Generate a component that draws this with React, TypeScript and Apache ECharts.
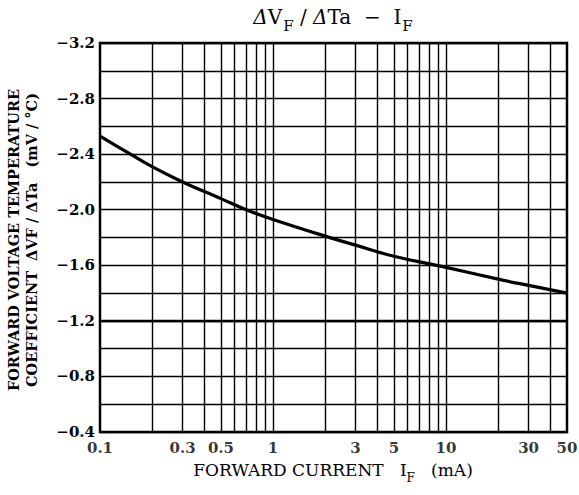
import React, { useEffect, useRef } from 'react';
import * as echarts from 'echarts';

// Forward current IF (mA) and temperature coefficient ΔVF/ΔTa (mV/°C)
const curveCurrent = [0.1, 0.15, 0.2, 0.3, 0.5, 0.7, 1, 2, 3, 5, 10, 20, 30, 50];
const curveCoef = [-2.53, -2.4, -2.31, -2.2, -2.08, -2.0, -1.93, -1.81, -1.745, -1.665, -1.585, -1.5, -1.455, -1.4];

const xGridValues = [0.2, 0.3, 0.4, 0.5, 0.6, 0.7, 0.8, 0.9, 1, 2, 3, 4, 5, 6, 7, 8, 9, 10, 20, 30, 40];
const xTickValues = [0.1, 0.3, 0.5, 1, 3, 5, 10, 30, 50];
const xTickLabels = ['0.1', '0.3', '0.5', '1', '3', '5', '10', '30', '50'];
const yTickValues = [-3.2, -2.8, -2.4, -2.0, -1.6, -1.2, -0.8, -0.4];
const yTickLabels = ['−3.2', '−2.8', '−2.4', '−2.0', '−1.6', '−1.2', '−0.8', '−0.4'];
const yMin = -3.2;
const yMax = -0.4;
const yStep = 0.2;
const yHeavyLine = -1.2;

const SERIF = "'DejaVu Serif', serif";

export default function App() {
  const ref = useRef<HTMLDivElement>(null);

  useEffect(() => {
    document.body.style.margin = '0';
    const chart = echarts.init(ref.current!, null, { renderer: 'svg' });

    const option: any = {
      animation: false,
      backgroundColor: '#fff',
      grid: {
        left: 100,
        right: 12,
        top: 43,
        bottom: 63,
        show: true,
        borderColor: '#000',
        borderWidth: 2.5,
        backgroundColor: 'transparent',
      },
      xAxis: {
        type: 'log',
        logBase: 10,
        min: 0.1,
        max: 50,
        axisLine: { show: false },
        axisTick: { show: false },
        axisLabel: { show: false },
        splitLine: { show: false },
        minorSplitLine: { show: false },
      },
      yAxis: {
        type: 'value',
        inverse: true,
        min: yMin,
        max: yMax,
        interval: yStep,
        axisLine: { show: false },
        axisTick: { show: false },
        splitLine: { show: true, lineStyle: { color: '#000', width: 1.4 } },
        axisLabel: {
          margin: 5,
          fontFamily: SERIF,
          fontWeight: 'bold',
          fontSize: 15,
          color: '#000',
          formatter: (v: number) => {
            const i = yTickValues.findIndex((t) => Math.abs(t - v) < 1e-6);
            return i >= 0 ? yTickLabels[i] : '';
          },
        },
      },
      series: [
        {
          type: 'line',
          data: curveCurrent.map((x, i) => [x, curveCoef[i]]),
          smooth: 0.4,
          symbol: 'none',
          lineStyle: { color: '#000', width: 3.2 },
          z: 5,
          markLine: {
            silent: true,
            symbol: ['none', 'none'],
            label: { show: false },
            lineStyle: { color: '#000', width: 1.4, type: 'solid' },
            data: [
              ...xGridValues.map((v) => ({ xAxis: v })),
              { yAxis: yHeavyLine, lineStyle: { color: '#000', width: 2.4, type: 'solid' } },
            ],
          },
        },
        {
          type: 'scatter',
          data: xTickValues.map((x) => [x, yMax]),
          symbolSize: 0,
          clip: false,
          silent: true,
          label: {
            show: true,
            position: 'bottom',
            distance: 8,
            fontFamily: SERIF,
            fontWeight: 'bold',
            fontSize: 15,
            color: '#000',
            formatter: (p: any) => xTickLabels[p.dataIndex],
          },
        },
      ],
      graphic: [
        {
          type: 'text',
          x: 333,
          y: 7,
          style: {
            text: '{d|Δ}{a|V}{s|F}{a| / }{d|Δ}{a|Ta  −  I}{s|F}',
            textAlign: 'center',
            textVerticalAlign: 'top',
            fill: '#000',
            rich: {
              a: { fontFamily: SERIF, fontSize: 20, lineHeight: 24, verticalAlign: 'top', fill: '#000' },
              d: { fontFamily: SERIF, fontSize: 20, fontStyle: 'italic', lineHeight: 24, verticalAlign: 'top', fill: '#000' },
              s: { fontFamily: SERIF, fontSize: 15, lineHeight: 17, verticalAlign: 'top', padding: [11, 0, 0, 1], fill: '#000' },
            },
          },
        },
        {
          type: 'text',
          x: 333,
          y: 472,
          style: {
            text: '{a|FORWARD CURRENT   I}{s|F}{a|   (mA)}',
            textAlign: 'center',
            textVerticalAlign: 'middle',
            fill: '#000',
            rich: {
              a: { fontFamily: SERIF, fontSize: 17, lineHeight: 22, verticalAlign: 'top', fill: '#000' },
              s: { fontFamily: SERIF, fontSize: 12, lineHeight: 13, verticalAlign: 'top', padding: [11, 0, 0, 0], fill: '#000' },
            },
          },
        },
        {
          type: 'text',
          x: 13,
          y: 240,
          rotation: Math.PI / 2,
          style: {
            text: 'FORWARD VOLTAGE TEMPERATURE',
            fontFamily: SERIF,
            fontWeight: 'bold',
            fontSize: 14.5,
            textAlign: 'center',
            textVerticalAlign: 'middle',
            fill: '#000',
          },
        },
        {
          type: 'text',
          x: 31,
          y: 240,
          rotation: Math.PI / 2,
          style: {
            text: 'COEFFICIENT  ΔVF / ΔTa   (mV / °C)',
            fontFamily: SERIF,
            fontWeight: 'bold',
            fontSize: 14.5,
            textAlign: 'center',
            textVerticalAlign: 'middle',
            fill: '#000',
          },
        },
      ],
    };

    chart.setOption(option);
    return () => chart.dispose();
  }, []);

  return <div ref={ref} style={{ width: 579, height: 495 }} />;
}
